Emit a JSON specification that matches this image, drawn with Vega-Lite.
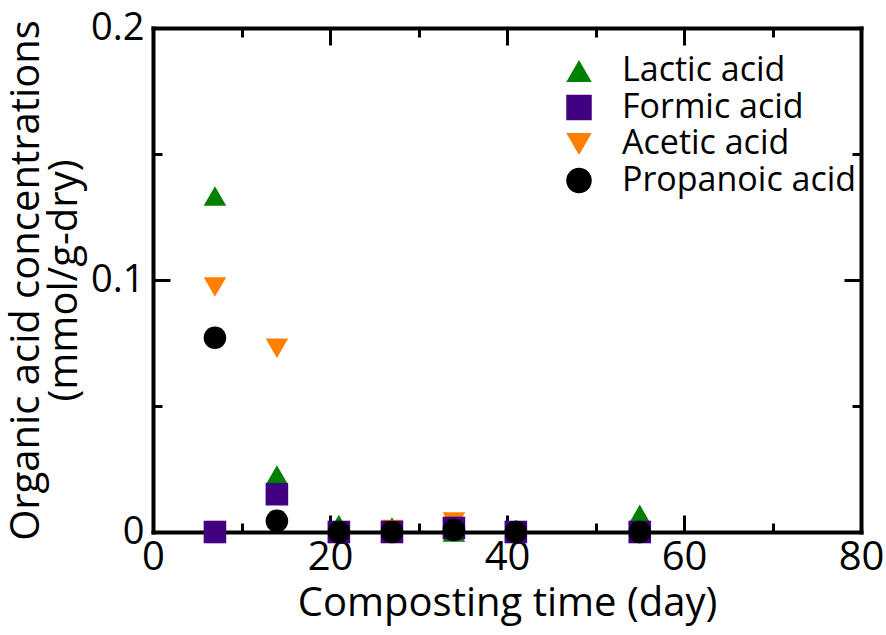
{
  "$schema": "https://vega.github.io/schema/vega-lite/v6.json",
  "width": 708,
  "height": 504,
  "autosize": "none",
  "padding": {"left": 153, "top": 28, "right": 25, "bottom": 103},
  "background": "white",
  "config": {
    "view": {"stroke": null},
    "font": "Open Sans",
    "axis": {"grid": false, "labelFont": "Open Sans", "titleFont": "Open Sans", "labelColor": "black", "titleColor": "black", "tickColor": "black", "domainColor": "black", "titleFontWeight": "normal"},
    "legend": {"padding": 0}
  },
  "data": {
    "values": [
      {"day": 7, "acid": "Lactic acid", "value": 0.1333},
      {"day": 14, "acid": "Lactic acid", "value": 0.0226},
      {"day": 21, "acid": "Lactic acid", "value": 0.003},
      {"day": 27, "acid": "Lactic acid", "value": 0.002},
      {"day": 34, "acid": "Lactic acid", "value": 0.0},
      {"day": 41, "acid": "Lactic acid", "value": 0.001},
      {"day": 55, "acid": "Lactic acid", "value": 0.007},
      {"day": 7, "acid": "Acetic acid", "value": 0.0972},
      {"day": 14, "acid": "Acetic acid", "value": 0.0729},
      {"day": 21, "acid": "Acetic acid", "value": 0.0005},
      {"day": 27, "acid": "Acetic acid", "value": 0.001},
      {"day": 34, "acid": "Acetic acid", "value": 0.004},
      {"day": 41, "acid": "Acetic acid", "value": 0.0},
      {"day": 55, "acid": "Acetic acid", "value": -0.001},
      {"day": 7, "acid": "Formic acid", "value": 0.0},
      {"day": 14, "acid": "Formic acid", "value": 0.015},
      {"day": 21, "acid": "Formic acid", "value": 0.0},
      {"day": 27, "acid": "Formic acid", "value": 0.0},
      {"day": 34, "acid": "Formic acid", "value": 0.0016},
      {"day": 41, "acid": "Formic acid", "value": 0.0},
      {"day": 55, "acid": "Formic acid", "value": 0.0},
      {"day": 7, "acid": "Propanoic acid", "value": 0.0771},
      {"day": 14, "acid": "Propanoic acid", "value": 0.0044},
      {"day": 21, "acid": "Propanoic acid", "value": 0.0},
      {"day": 27, "acid": "Propanoic acid", "value": 0.0},
      {"day": 34, "acid": "Propanoic acid", "value": 0.0008},
      {"day": 41, "acid": "Propanoic acid", "value": 0.0},
      {"day": 55, "acid": "Propanoic acid", "value": 0.0}
    ]
  },
  "resolve": {"axis": {"x": "independent", "y": "independent"}},
  "layer": [
    {
      "mark": {"type": "point", "opacity": 0},
      "encoding": {
        "x": {"field": "day", "type": "quantitative", "scale": {"domain": [0, 80], "nice": false, "zero": false},
          "axis": {"orient": "top", "values": [20, 40, 60], "tickSize": -17, "tickWidth": 3, "labels": false, "title": null, "domain": true, "domainWidth": 4, "domainCap": "square"}},
        "y": {"field": "value", "type": "quantitative", "scale": {"domain": [0, 0.2], "nice": false, "zero": false},
          "axis": {"orient": "right", "values": [0.1], "tickSize": -17, "tickWidth": 3, "labels": false, "title": null, "domain": true, "domainWidth": 4, "domainCap": "square"}}
      }
    },
    {
      "mark": {"type": "point", "opacity": 0},
      "encoding": {
        "x": {"field": "day", "type": "quantitative",
          "axis": {"orient": "top", "values": [10, 30, 50, 70], "tickSize": -9, "tickWidth": 3, "labels": false, "title": null, "domain": false}},
        "y": {"field": "value", "type": "quantitative",
          "axis": {"orient": "right", "values": [0.05, 0.15], "tickSize": -9, "tickWidth": 3, "labels": false, "title": null, "domain": false}}
      }
    },
    {
      "mark": {"type": "point", "opacity": 0},
      "encoding": {
        "x": {"field": "day", "type": "quantitative",
          "axis": {"orient": "bottom", "values": [10, 30, 50, 70], "tickSize": -9, "tickWidth": 3, "labels": false, "title": null, "domain": false}},
        "y": {"field": "value", "type": "quantitative",
          "axis": {"orient": "left", "values": [0.05, 0.15], "tickSize": -9, "tickWidth": 3, "labels": false, "title": null, "domain": false}}
      }
    },
    {
      "mark": {"type": "point", "opacity": 0},
      "encoding": {
        "x": {"field": "day", "type": "quantitative",
          "axis": {"orient": "bottom", "values": [20, 40, 60], "tickSize": -17, "tickWidth": 3, "labels": false, "title": null, "domain": false}},
        "y": {"field": "value", "type": "quantitative",
          "axis": {"orient": "left", "values": [0.1], "tickSize": -17, "tickWidth": 3, "labels": false, "title": null, "domain": false}}
      }
    },
    {
      "mark": {"type": "point", "filled": true, "opacity": 1, "size": 510, "strokeWidth": 0},
      "encoding": {
        "x": {"field": "day", "type": "quantitative",
          "axis": {"orient": "bottom", "values": [0, 20, 40, 60, 80], "ticks": false, "labelFontSize": 40, "labelPadding": 5, "labelFlush": false,
            "title": "Composting time (day)", "titleFontSize": 40, "titlePadding": 6, "domain": true, "domainWidth": 4, "domainCap": "square"}},
        "y": {"field": "value", "type": "quantitative",
          "axis": {"orient": "left", "values": [0, 0.1, 0.2], "format": "~g", "ticks": false, "labelFontSize": 38, "labelPadding": 9, "labelFlush": false,
            "title": ["Organic acid concentrations", "(mmol/g-dry)"], "titleFontSize": 40, "titleLineHeight": 38, "titlePadding": 6, "domain": true, "domainWidth": 4, "domainCap": "square"}},
        "color": {"field": "acid", "type": "nominal",
          "scale": {"domain": ["Lactic acid", "Formic acid", "Acetic acid", "Propanoic acid"], "range": ["#008000", "#400080", "#ff8000", "#000000"]},
          "legend": {"title": null, "orient": "none", "legendX": 409, "legendY": 26, "labelFontSize": 34, "labelFont": "Open Sans", "labelColor": "black", "labelLimit": 400, "symbolSize": 650, "labelOffset": 26, "rowPadding": 2.5, "symbolStrokeWidth": 0}},
        "shape": {"field": "acid", "type": "nominal",
          "scale": {"domain": ["Lactic acid", "Formic acid", "Acetic acid", "Propanoic acid"], "range": ["triangle-up", "square", "triangle-down", "circle"]},
          "legend": {"title": null, "orient": "none", "legendX": 409, "legendY": 26, "labelFontSize": 34, "labelFont": "Open Sans", "labelColor": "black", "labelLimit": 400, "symbolSize": 650, "labelOffset": 26, "rowPadding": 2.5, "symbolStrokeWidth": 0}}
      }
    }
  ]
}
